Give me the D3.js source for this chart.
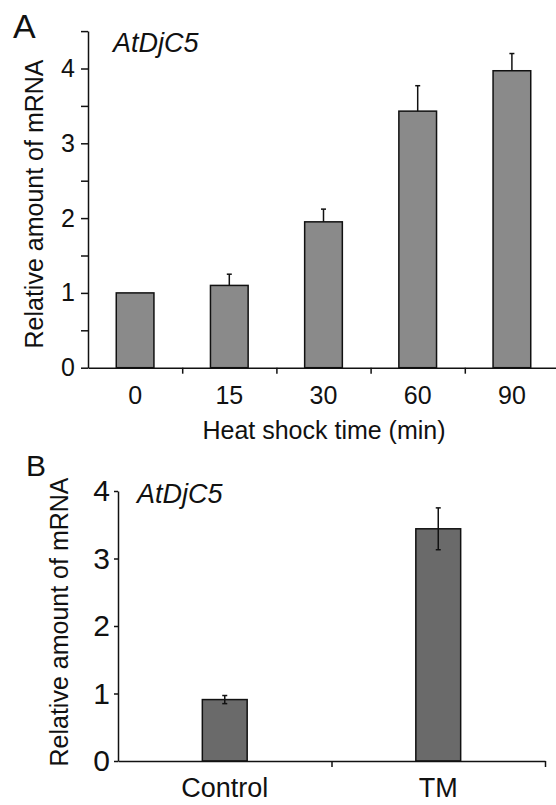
<!DOCTYPE html>
<html>
<head>
<meta charset="utf-8">
<script src="https://cdn.jsdelivr.net/npm/d3@7"></script>
<style>
  body { margin: 0; background: white; }
  text { font-family: 'Liberation Sans', Arial, sans-serif; fill: #111; }
</style>
</head>
<body>
<script>
// Panel A: heat shock time course
const heatTimes = ['0', '15', '30', '60', '90'];
const heatMeans = [1.0, 1.10, 1.95, 3.43, 3.97];
const heatErrors = [0, 0.15, 0.17, 0.34, 0.23];
const heatTicks = [0, 0.5, 1, 1.5, 2, 2.5, 3, 3.5, 4, 4.5];

// Panel B: control vs TM
const tmGroups = ['Control', 'TM'];
const tmMeans = [0.91, 3.44];
const tmErrors = [0.06, 0.31];
const tmTicks = [0, 1, 2, 3, 4];

const geneName = 'AtDjC5';
const yLabel = 'Relative amount of mRNA';

const svg = d3.select('body').append('svg')
    .attr('width', 556)
    .attr('height', 805);

svg.append('rect').attr('width', 556).attr('height', 805).attr('fill', 'white');

// ---------- Panel A ----------
const xA = d3.scaleBand().domain(heatTimes).range([88, 559]).paddingInner(0.6).paddingOuter(0.3);
const xEdgeA = d3.scaleLinear().domain([0, heatTimes.length]).range([88, 559]);
const yA = d3.scaleLinear().domain([0, 4.5]).range([367.7, 31.1]);

const gA = svg.append('g');

gA.selectAll('rect.bar')
    .data(heatTimes)
    .join('rect')
    .attr('class', 'bar')
    .attr('x', d => xA(d))
    .attr('width', xA.bandwidth())
    .attr('y', (d, i) => yA(heatMeans[i]))
    .attr('height', (d, i) => yA(0) - yA(heatMeans[i]))
    .attr('fill', '#8a8a8a')
    .attr('stroke', '#111')
    .attr('stroke-width', 1.5);

// error bars (upper only)
heatTimes.forEach((d, i) => {
    if (!heatErrors[i]) return;
    const cx = xA(d) + xA.bandwidth() / 2;
    gA.append('line')
        .attr('x1', cx).attr('x2', cx)
        .attr('y1', yA(heatMeans[i])).attr('y2', yA(heatMeans[i] + heatErrors[i]))
        .attr('stroke', '#111').attr('stroke-width', 1.5);
    gA.append('line')
        .attr('x1', cx - 2.5).attr('x2', cx + 2.5)
        .attr('y1', yA(heatMeans[i] + heatErrors[i])).attr('y2', yA(heatMeans[i] + heatErrors[i]))
        .attr('stroke', '#111').attr('stroke-width', 1.5);
});

gA.append('g')
    .attr('transform', 'translate(88,0)')
    .call(d3.axisLeft(yA)
        .tickValues(heatTicks)
        .tickSize(7)
        .tickSizeOuter(0)
        .tickPadding(6)
        .tickFormat(d => Number.isInteger(d) ? d : ''))
    .call(g => g.selectAll('path, line').attr('stroke', '#111').attr('stroke-width', 1.5))
    .call(g => g.selectAll('text').style('font-size', '25px').attr('fill', '#111'));

gA.append('g')
    .attr('transform', 'translate(0,367.7)')
    .call(d3.axisBottom(xEdgeA)
        .tickValues(d3.range(1, heatTimes.length + 1))
        .tickSize(6)
        .tickSizeOuter(0)
        .tickFormat(''))
    .call(g => g.selectAll('path, line').attr('stroke', '#111').attr('stroke-width', 1.5));

gA.selectAll('text.xlab')
    .data(heatTimes)
    .join('text')
    .attr('class', 'xlab')
    .attr('x', d => xA(d) + xA.bandwidth() / 2)
    .attr('y', 404)
    .attr('text-anchor', 'middle')
    .style('font-size', '25px')
    .text(d => d);

gA.append('text')
    .attr('x', 324)
    .attr('y', 439)
    .attr('text-anchor', 'middle')
    .style('font-size', '25px')
    .text('Heat shock time (min)');

gA.append('text')
    .attr('transform', 'translate(43,204) rotate(-90)')
    .attr('text-anchor', 'middle')
    .style('font-size', '25px')
    .text(yLabel);

gA.append('text')
    .attr('x', 113)
    .attr('y', 52)
    .style('font-size', '27px')
    .style('font-style', 'italic')
    .text(geneName);

gA.append('text')
    .attr('x', 13)
    .attr('y', 38)
    .style('font-size', '34px')
    .text('A');

// ---------- Panel B ----------
const xB = d3.scaleBand().domain(tmGroups).range([118, 545]).paddingInner(0.79).paddingOuter(0.395);
const xEdgeB = d3.scaleLinear().domain([0, tmGroups.length]).range([118, 545]);
const yB = d3.scaleLinear().domain([0, 4]).range([761, 491]);

const gB = svg.append('g');

gB.selectAll('rect.bar')
    .data(tmGroups)
    .join('rect')
    .attr('class', 'bar')
    .attr('x', d => xB(d))
    .attr('width', xB.bandwidth())
    .attr('y', (d, i) => yB(tmMeans[i]))
    .attr('height', (d, i) => yB(0) - yB(tmMeans[i]))
    .attr('fill', '#6a6a6a')
    .attr('stroke', '#111')
    .attr('stroke-width', 1.5);

tmGroups.forEach((d, i) => {
    const cx = xB(d) + xB.bandwidth() / 2;
    const lo = yB(tmMeans[i] - tmErrors[i]);
    const hi = yB(tmMeans[i] + tmErrors[i]);
    gB.append('line')
        .attr('x1', cx).attr('x2', cx).attr('y1', lo).attr('y2', hi)
        .attr('stroke', '#111').attr('stroke-width', 1.5);
    [lo, hi].forEach(y => {
        gB.append('line')
            .attr('x1', cx - 2.5).attr('x2', cx + 2.5).attr('y1', y).attr('y2', y)
            .attr('stroke', '#111').attr('stroke-width', 1.5);
    });
});

gB.append('g')
    .attr('transform', 'translate(118,0)')
    .call(d3.axisLeft(yB)
        .tickValues(tmTicks)
        .tickSize(4)
        .tickSizeOuter(0)
        .tickPadding(4)
        .tickFormat(d3.format('d')))
    .call(g => g.selectAll('path, line').attr('stroke', '#111').attr('stroke-width', 1.5))
    .call(g => g.selectAll('text').style('font-size', '30px').attr('fill', '#111'));

gB.append('g')
    .attr('transform', 'translate(0,761)')
    .call(d3.axisBottom(xEdgeB)
        .tickValues(d3.range(1, tmGroups.length + 1))
        .tickSize(6)
        .tickSizeOuter(0)
        .tickFormat(''))
    .call(g => g.selectAll('path, line').attr('stroke', '#111').attr('stroke-width', 1.5));

gB.selectAll('text.xlab')
    .data(tmGroups)
    .join('text')
    .attr('class', 'xlab')
    .attr('x', d => xB(d) + xB.bandwidth() / 2)
    .attr('y', 797)
    .attr('text-anchor', 'middle')
    .style('font-size', '27px')
    .text(d => d);

gB.append('text')
    .attr('transform', 'translate(68,622) rotate(-90)')
    .attr('text-anchor', 'middle')
    .style('font-size', '25px')
    .text(yLabel);

gB.append('text')
    .attr('x', 137)
    .attr('y', 503)
    .style('font-size', '27px')
    .style('font-style', 'italic')
    .text(geneName);

gB.append('text')
    .attr('x', 26)
    .attr('y', 476)
    .style('font-size', '30px')
    .text('B');
</script>
</body>
</html>
